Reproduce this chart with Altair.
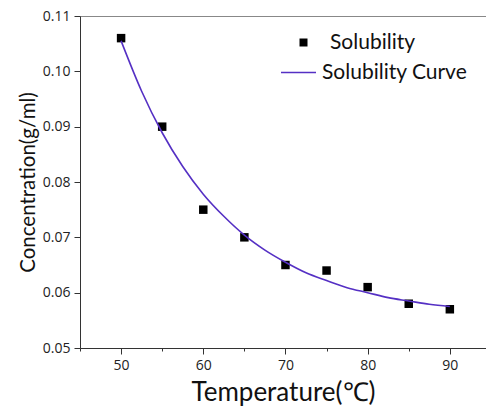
import altair as alt
import pandas as pd

temps = [50, 55, 60, 65, 70, 75, 80, 85, 90]
solubility = [0.106, 0.090, 0.075, 0.070, 0.065, 0.064, 0.061, 0.058, 0.057]

curve_t = [50, 52.5, 55, 57.5, 60, 62.5, 65, 67.5, 70, 72.5, 75, 77.5, 80, 82.5, 85, 87.5, 90]
curve_c = [0.1055, 0.0964, 0.0889, 0.0828, 0.0778, 0.0738, 0.0704, 0.0677, 0.0655,
           0.0636, 0.0622, 0.0609, 0.0600, 0.0591, 0.0585, 0.0579, 0.0575]

x_ticks = [45, 50, 55, 60, 65, 70, 75, 80, 85, 90]
y_ticks = [0.05, 0.055, 0.06, 0.065, 0.07, 0.075, 0.08, 0.085, 0.09, 0.095, 0.10, 0.105, 0.11]

pts = pd.DataFrame({"T": temps, "C": solubility, "s": ["Solubility"] * len(temps)})
crv = pd.DataFrame({"T": curve_t, "C": curve_c, "s": ["Solubility Curve"] * len(curve_t)})

LABEL_FONT = "Open Sans"
TITLE_FONT = "Lato"

xscale = alt.Scale(domain=[45, 94.4], nice=False, zero=False)
yscale = alt.Scale(domain=[0.05, 0.11], nice=False, zero=False)

x_axis = alt.Axis(
    values=x_ticks,
    labelExpr="datum.value % 10 == 0 ? datum.label : ''",
    tickSize={"condition": {"test": "datum.value % 10 == 0", "value": 6}, "value": 3},
    tickColor="#333", domainColor="#333", grid=False,
    labelFont=LABEL_FONT, labelFontSize=14, labelColor="#222", labelPadding=4,
    title="Temperature(℃)", titleFont=TITLE_FONT, titleFontSize=26,
    titleFontWeight="normal", titleColor="#111", titlePadding=7,
)
y_axis = alt.Axis(
    values=y_ticks,
    labelExpr="round(datum.value * 1000) % 10 == 0 ? format(datum.value, '.2f') : ''",
    tickSize={"condition": {"test": "round(datum.value * 1000) % 10 == 0", "value": 6}, "value": 3},
    tickColor="#333", domainColor="#333", grid=False,
    labelFont=LABEL_FONT, labelFontSize=14, labelColor="#222", labelPadding=4,
    title="Concentration(g/ml)", titleFont=TITLE_FONT, titleFontSize=20.5,
    titleFontWeight="normal", titleColor="#111", titlePadding=4,
)

points = alt.Chart(pts).mark_point(shape="square", filled=True, size=72, opacity=1, color="black").encode(
    x=alt.X("T:Q", scale=xscale, axis=x_axis),
    y=alt.Y("C:Q", scale=yscale, axis=y_axis),
    shape=alt.Shape("s:N", scale=alt.Scale(domain=["Solubility"], range=["square"]),
                    legend=alt.Legend(title=None, orient="none", legendX=213, legendY=16,
                                      symbolFillColor="black", symbolStrokeColor="black",
                                      symbolSize=64, labelFont=TITLE_FONT, labelFontSize=21,
                                      labelColor="#111", labelOffset=16)),
)

line = alt.Chart(crv).mark_line(strokeWidth=1.6, interpolate="monotone").encode(
    x=alt.X("T:Q", scale=xscale, axis=alt.Axis(orient="top", labels=False, ticks=False,
                                                 title=None, domainColor="#888", grid=False)),
    y=alt.Y("C:Q", scale=yscale),
    color=alt.Color("s:N", scale=alt.Scale(domain=["Solubility Curve"], range=["#5530c4"]),
                    legend=alt.Legend(title=None, orient="none", legendX=200, legendY=38,
                                      symbolType="stroke", symbolSize=1225, symbolStrokeWidth=1.6,
                                      symbolStrokeColor="#3a3ad8",
                                      labelFont=TITLE_FONT, labelFontSize=21,
                                      labelColor="#111", labelOffset=5)),
)

chart = alt.layer(points, line).resolve_axis(x="independent").resolve_legend(
    shape="independent", color="independent"
).properties(
    width=406, height=332,
    autosize=alt.AutoSizeParams(type="none"),
    padding={"left": 80, "top": 16, "right": 0, "bottom": 63},
).configure_view(stroke=None).configure(background="white")

chart.save("out.html", embed_options={"renderer": "svg", "actions": False})
